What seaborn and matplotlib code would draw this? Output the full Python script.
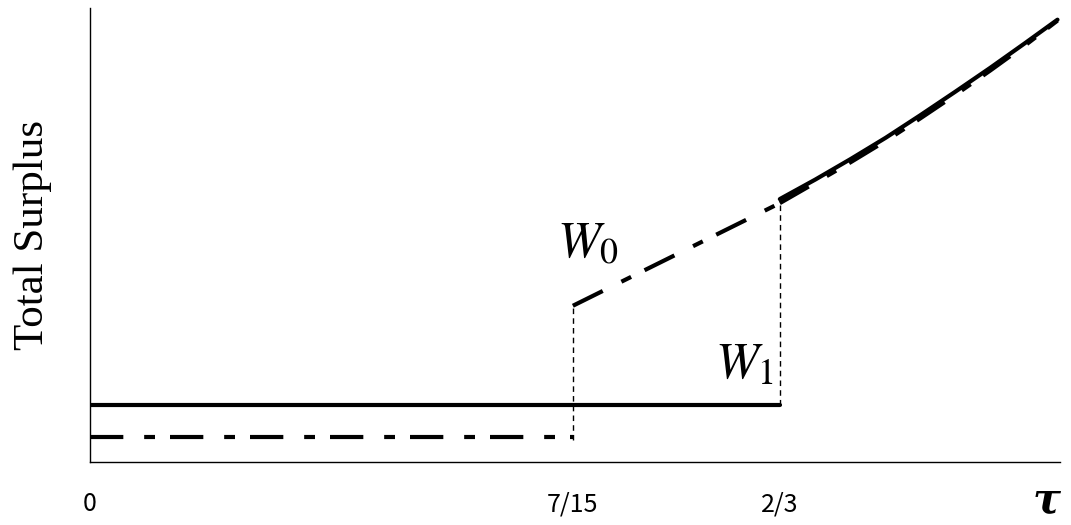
import numpy as np
import pandas as pd
import matplotlib
matplotlib.use("Agg")
import matplotlib.pyplot as plt
import seaborn as sns

# Values (y in arbitrary units, axis 0..1)
tau_low = [0, 7 / 15]
w0_low = [0.055, 0.055]

tau_flat = [0, 2 / 3]
w1_flat = [0.1256, 0.1256]

tau_mid = [7 / 15, 2 / 3]
w0_mid = [0.344, 0.570]

tau_high = [2 / 3, 0.701, 0.735, 0.769, 0.802, 0.836, 0.870, 0.904, 0.935]
w1_high = [0.579, 0.622, 0.667, 0.714, 0.763, 0.815, 0.868, 0.923, 0.974]
w0_high = [0.570, 0.615, 0.660, 0.707, 0.756, 0.808, 0.862, 0.918, 0.972]

tick_pos = [0, 7 / 15, 2 / 3]
tick_labels = ["0", "7/15", "2/3"]

sns.set_style("white")
plt.rcParams["font.family"] = ["Noto Sans CJK JP", "DejaVu Sans"]
plt.rcParams["mathtext.fontset"] = "stix"
plt.rcParams["text.color"] = "black"
plt.rcParams["xtick.color"] = "black"

fig = plt.figure(figsize=(10.71, 5.25), dpi=100)
ax = fig.add_axes([0.084, 0.12, 0.906, 0.865])

dashdot = (0, (8, 5, 2.6, 3.6))

# W1 (solid)
sns.lineplot(x=tau_flat, y=w1_flat, ax=ax, color="black", linewidth=3)
sns.lineplot(x=tau_high, y=w1_high, ax=ax, color="black", linewidth=3)

# W0 (dash-dot)
sns.lineplot(x=tau_low, y=w0_low, ax=ax, color="black", linewidth=3, linestyle=dashdot)
sns.lineplot(x=tau_mid, y=w0_mid, ax=ax, color="black", linewidth=3, linestyle=dashdot)
sns.lineplot(x=tau_high, y=w0_high, ax=ax, color="black", linewidth=3, linestyle=dashdot)

# dotted guides at the jumps
ax.vlines(7 / 15, 0.048, w0_mid[0], colors="black", linewidth=1, linestyles=(0, (4, 3)))
ax.vlines(2 / 3, w1_flat[0], w0_mid[1], colors="black", linewidth=1, linestyles=(0, (4, 3)))

ax.text(0.451, 0.449, r"$W_0$", fontsize=37, ha="left", va="baseline", color="black")
ax.text(0.604, 0.185, r"$W_1$", fontsize=37, ha="left", va="baseline", color="black")

ax.set_xlim(0, 0.9377)
ax.set_ylim(0, 1)
ax.set_xticks(tick_pos, tick_labels)
ax.set_yticks([])
ax.tick_params(axis="x", length=0, pad=21, labelsize=18, labelcolor="black")
for s in ["top", "right"]:
    ax.spines[s].set_visible(False)
for s in ["left", "bottom"]:
    ax.spines[s].set_color("black")
    ax.spines[s].set_linewidth(1.0)

ax.set_ylabel("Total Surplus", fontsize=31, family="Liberation Serif", labelpad=27,
              color="black")
ax.text(1.0, -0.085, "τ", transform=ax.transAxes, fontsize=30, family="DejaVu Serif",
        fontweight="bold", fontstyle="italic", ha="right", va="center", color="black")

fig.savefig("out.png", dpi=100)
